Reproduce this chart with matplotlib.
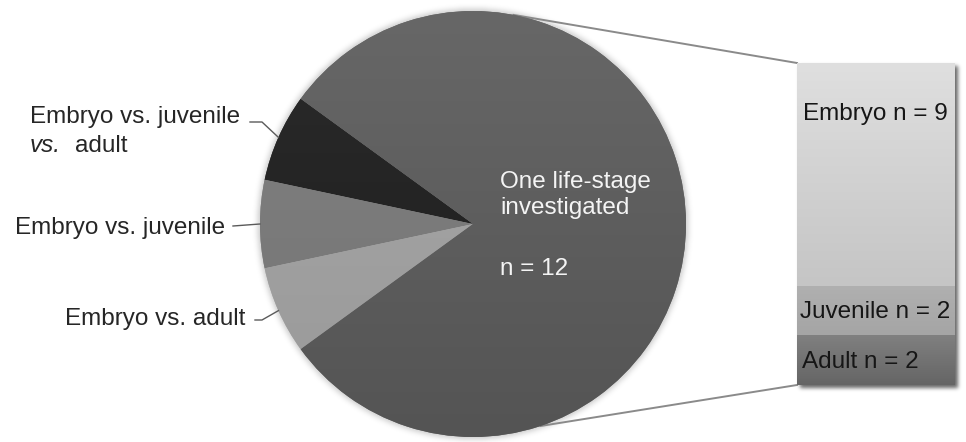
import numpy as np
import matplotlib
matplotlib.use("Agg")
import matplotlib.pyplot as plt
from matplotlib.colors import LinearSegmentedColormap

plt.rcParams['font.family'] = ['Liberation Sans', 'DejaVu Sans']

# ---- data ----
pie_labels = ["Embryo vs. juvenile vs. adult", "Embryo vs. juvenile",
              "Embryo vs. adult", "One life-stage investigated"]
pie_counts = [1, 1, 1, 12]
stage_labels = ["Adult", "Juvenile", "Embryo"]
stage_counts = [2, 2, 9]

# ---- styling ----
pie_grad = [("#2b2b2b", "#1c1c1c"), ("#828282", "#737373"),
            ("#a8a8a8", "#999999"), ("#676767", "#545454")]
bar_grad = [("#808080", "#656565"), ("#b0b0b0", "#a5a5a5"), ("#dfdfdf", "#c5c5c5")]
FS = 17.5

W, H = 966, 442
fig = plt.figure(figsize=(W / 100, H / 100), dpi=100)
ax = fig.add_axes([0, 0, 1, 1])

center = (473.0, 218.0)
R = 213.0
bar_box = (797.0, 57.0, 158.0, 322.0)   # left, bottom, width, height (px)


def blur(a, s):
    k = np.arange(-3 * s, 3 * s + 1)
    g = np.exp(-k ** 2 / (2.0 * s * s))
    g /= g.sum()
    a = np.apply_along_axis(lambda r: np.convolve(r, g, mode='same'), 1, a)
    a = np.apply_along_axis(lambda c: np.convolve(c, g, mode='same'), 0, a)
    return a


# soft shadows under the pie and the bar
yy, xx = np.mgrid[0:H, 0:W]
yup = H - yy - 0.5
xc = xx + 0.5
disk = ((xc - center[0]) ** 2 + (yup - center[1]) ** 2 <= (R + 2) ** 2).astype(float)
bl, bb, bw, bh = bar_box
rect = ((xc >= bl + 3) & (xc <= bl + bw + 3) & (yup >= bb - 3) & (yup <= bb + bh - 3)).astype(float)
shade = 0.22 * blur(disk, 3) + 0.6 * blur(rect, 2)
rgba = np.zeros((H, W, 4))
rgba[..., 3] = np.clip(shade, 0, 1)
ax.imshow(rgba, extent=(0, W, 0, H), origin='upper', zorder=0, interpolation='bilinear')

# pie
wedges, _ = ax.pie(pie_counts, startangle=144, counterclock=True, center=center,
                   radius=R, colors=[c[0] for c in pie_grad],
                   wedgeprops=dict(linewidth=0), frame=True)
grad = np.linspace(0, 1, 256).reshape(-1, 1)
for w, (c0, c1) in zip(wedges, pie_grad):
    w.set_zorder(2)
    cm = LinearSegmentedColormap.from_list("g", [c0, c1])
    im = ax.imshow(grad, cmap=cm, extent=(center[0] - R, center[0] + R,
                                          center[1] - R, center[1] + R),
                   origin='upper', aspect='auto', zorder=2.1)
    im.set_clip_path(w)

# connector lines from the pie to the bar
def on_pie(deg, r=R):
    t = np.deg2rad(deg)
    return center[0] + r * np.cos(t), center[1] + r * np.sin(t)

p_top = on_pie(79)
p_bot = on_pie(-71.5)
ax.plot([p_top[0], bl], [p_top[1], bb + bh], color="#8a8a8a", lw=1.4, zorder=1.5)
ax.plot([p_bot[0], bl], [p_bot[1], bb], color="#8a8a8a", lw=1.4, zorder=1.5)

# labels for the small slices with leader lines
lead = dict(color="#5a5a5a", lw=1.0, zorder=3)
mids = [(w.theta1 + w.theta2) / 2 for w in wedges]

e1 = on_pie(mids[0])
ax.plot([250, 262, e1[0]], [320, 320, e1[1]], **lead)
ax.text(30, 319, "Embryo vs. juvenile", fontsize=FS, color="#262626", va='baseline', ha='left')
ax.text(30, 290, "vs.", fontsize=FS, style='italic', color="#262626", va='baseline', ha='left')
ax.text(75, 290, "adult", fontsize=FS, color="#262626", va='baseline', ha='left')

e2 = on_pie(mids[1])
ax.plot([233, e2[0]], [216, e2[1]], **lead)
ax.text(225, 208, "Embryo vs. juvenile", fontsize=FS, color="#262626", va='baseline', ha='right')

e3 = on_pie(mids[2])
ax.plot([255, 262, e3[0]], [122, 122, e3[1]], **lead)
ax.text(245, 117, "Embryo vs. adult", fontsize=FS, color="#262626", va='baseline', ha='right')

# label inside the large slice
big = pie_counts[-1]
ax.text(500, 254, "One life-stage", fontsize=FS, color="#f4f4f4", va='baseline', zorder=4)
ax.text(500, 228, "investigated", fontsize=FS, color="#f4f4f4", va='baseline', zorder=4)
ax.text(500, 167, f"n = {big}", fontsize=FS, color="#f4f4f4", va='baseline', zorder=4)

ax.set_xlim(0, W)
ax.set_ylim(0, H)
ax.set_aspect('auto')
ax.axis('off')

# stacked bar breaking down the large slice
bax = fig.add_axes([bl / W, bb / H, bw / W, bh / H])
bottoms = np.concatenate([[0], np.cumsum(stage_counts)[:-1]])
bars = bax.bar(0, stage_counts, bottom=bottoms, width=1.0,
               color=[g[0] for g in bar_grad], linewidth=0)
for b, (c0, c1), lo, n in zip(bars, bar_grad, bottoms, stage_counts):
    cm = LinearSegmentedColormap.from_list("g", [c0, c1])
    im = bax.imshow(grad, cmap=cm, extent=(-0.5, 0.5, lo, lo + n),
                    origin='upper', aspect='auto', zorder=2)
    im.set_clip_path(b)

text_y = [0.69, 0.70, 6.7]
text_x = [-0.468, -0.478, -0.465]
for lab, n, lo, ty, tx in zip(stage_labels, stage_counts, bottoms, text_y, text_x):
    bax.text(tx, lo + ty, f"{lab} n = {n}", fontsize=FS, color="#161616",
             va='baseline', ha='left', zorder=3)

bax.set_xlim(-0.5, 0.5)
bax.set_ylim(0, sum(stage_counts))
bax.axis('off')

fig.savefig("out.png", dpi=100)
